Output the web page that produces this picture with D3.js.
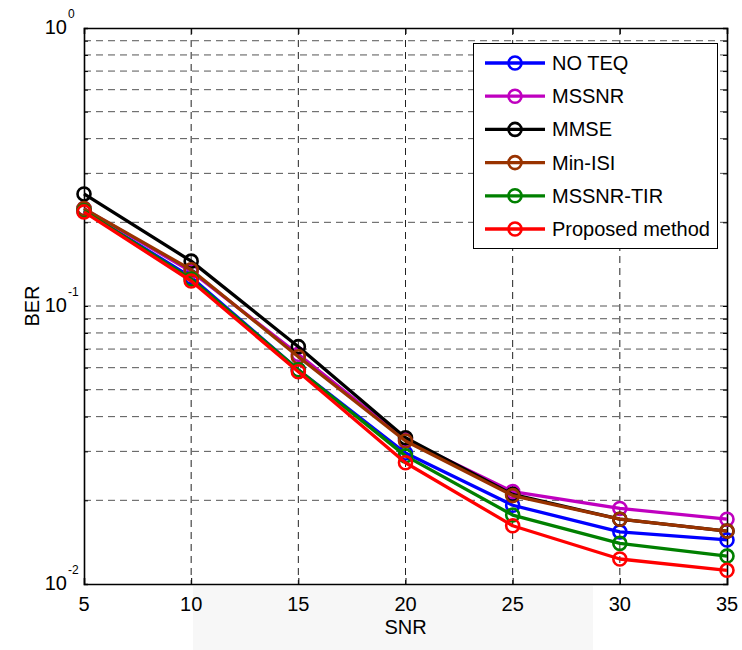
<!DOCTYPE html>
<html>
<head>
<meta charset="utf-8">
<script src="https://cdn.jsdelivr.net/npm/d3@7"></script>
<style>
  html, body { margin: 0; padding: 0; background: #fff; }
  svg text { font-family: "Liberation Sans", Arial, Helvetica, sans-serif; fill: #000; }
</style>
</head>
<body>
<svg id="chart" width="742" height="650"></svg>
<script>
// SNR points (dB)
const snr = [5, 10, 15, 20, 25, 30, 35];

// Bit error rate of each equalizer design
const seriesNames = ["NO TEQ", "MSSNR", "MMSE", "Min-ISI", "MSSNR-TIR", "Proposed method"];
const berNoTeq    = [0.220, 0.127, 0.0590, 0.0296, 0.0192, 0.0154, 0.0144];
const berMssnr    = [0.224, 0.133, 0.0670, 0.0330, 0.0215, 0.0187, 0.0171];
const berMmse     = [0.253, 0.145, 0.0714, 0.0336, 0.0210, 0.0171, 0.0155];
const berMinIsi   = [0.224, 0.135, 0.0657, 0.0327, 0.0208, 0.0171, 0.0155];
const berMssnrTir = [0.220, 0.125, 0.0590, 0.0289, 0.0177, 0.0140, 0.0126];
const berProposed = [0.218, 0.123, 0.0580, 0.0273, 0.0162, 0.0123, 0.0112];
const seriesColors = ["#0000ff", "#bf00bf", "#000000", "#993300", "#008000", "#ff0000"];

// Axis tick values
const xTicks = [5, 10, 15, 20, 25, 30, 35];
const yDecades = [0.01, 0.1, 1];
const yDecadeExponents = ["-2", "-1", "0"];

const allSeries = [berNoTeq, berMssnr, berMmse, berMinIsi, berMssnrTir, berProposed];

const svg = d3.select("#chart");
const plotLeft = 84, plotRight = 727, plotTop = 28, plotBottom = 584;

const x = d3.scaleLinear().domain([5, 35]).range([plotLeft, plotRight]);
const y = d3.scaleLog().domain([0.01, 1]).range([plotBottom, plotTop]);

// faint band behind the x-axis labels
svg.append("rect").attr("x", 193).attr("y", 586).attr("width", 400).attr("height", 64)
  .attr("fill", "#f7f7f7");

// grid: horizontal at every log-minor value, vertical at inner x ticks
const gridY = [];
for (let d = 0.01; d < 1; d *= 10) {
  for (let m = 1; m <= 9; m++) {
    const v = +(d * m).toPrecision(3);
    if (v > 0.01 && v < 1) gridY.push(v);
  }
}
const grid = svg.append("g");
grid.selectAll("line.h").data(gridY).join("line")
  .attr("class", "h")
  .attr("x1", plotLeft).attr("x2", plotRight)
  .attr("y1", d => y(d)).attr("y2", d => y(d))
  .attr("stroke", "#555").attr("stroke-width", 1)
  .attr("stroke-dasharray", "7,5");
grid.selectAll("line.v").data(xTicks.slice(1, -1)).join("line")
  .attr("class", "v")
  .attr("x1", d => x(d)).attr("x2", d => x(d))
  .attr("y1", plotTop).attr("y2", plotBottom)
  .attr("stroke", "#222").attr("stroke-width", 1)
  .attr("stroke-dasharray", "7,5");

// axes with inward ticks
const yTickVals = gridY.concat(yDecades);
const xAxisBottom = d3.axisBottom(x).tickValues(xTicks).tickSize(-6).tickFormat("");
const xAxisTop = d3.axisTop(x).tickValues(xTicks).tickSize(-6).tickFormat("");
const yAxisLeft = d3.axisLeft(y).tickValues(yTickVals).tickSize(-4).tickFormat("");
const yAxisRight = d3.axisRight(y).tickValues(yTickVals).tickSize(-4).tickFormat("");

function styleAxis(g) {
  g.select(".domain").attr("stroke", "#000").attr("stroke-width", 1.6);
  g.selectAll(".tick line").attr("stroke", "#000");
}
svg.append("g").attr("transform", `translate(0,${plotBottom})`).call(xAxisBottom).call(styleAxis);
svg.append("g").attr("transform", `translate(0,${plotTop})`).call(xAxisTop).call(styleAxis);
svg.append("g").attr("transform", `translate(${plotLeft},0)`).call(yAxisLeft).call(styleAxis);
svg.append("g").attr("transform", `translate(${plotRight},0)`).call(yAxisRight).call(styleAxis);

// x tick labels
svg.append("g").selectAll("text").data(xTicks).join("text")
  .attr("x", d => x(d)).attr("y", 611)
  .attr("text-anchor", "middle").attr("font-size", 20)
  .text(d => d);

// y decade labels 10^n
const yLab = svg.append("g").selectAll("g").data(yDecades).join("g")
  .attr("transform", d => `translate(67,${y(d)})`);
yLab.append("text").attr("x", 0).attr("y", 6)
  .attr("text-anchor", "end").attr("font-size", 20).text("10");
yLab.append("text").attr("x", 1).attr("y", -10)
  .attr("text-anchor", "start").attr("font-size", 12)
  .text((d, i) => yDecadeExponents[i]);

// axis titles
svg.append("text").attr("x", (plotLeft + plotRight) / 2).attr("y", 634)
  .attr("text-anchor", "middle").attr("font-size", 20).text("SNR");
svg.append("text").attr("transform", `translate(39,${(plotTop + plotBottom) / 2}) rotate(-90)`)
  .attr("text-anchor", "middle").attr("font-size", 20).text("BER");

// data lines with open circle markers
const line = d3.line().x((d, i) => x(snr[i])).y(d => y(d));
allSeries.forEach((vals, k) => {
  const g = svg.append("g");
  g.append("path").datum(vals)
    .attr("d", line).attr("fill", "none")
    .attr("stroke", seriesColors[k]).attr("stroke-width", 3.3)
    .attr("stroke-linejoin", "round");
  g.selectAll("circle").data(vals).join("circle")
    .attr("cx", (d, i) => x(snr[i])).attr("cy", d => y(d))
    .attr("r", 6.5).attr("fill", "none")
    .attr("stroke", seriesColors[k]).attr("stroke-width", 2.6);
});

// legend
const lg = svg.append("g");
lg.append("rect").attr("x", 473.5).attr("y", 43.5).attr("width", 244).attr("height", 205)
  .attr("fill", "#fff").attr("stroke", "#000").attr("stroke-width", 1);
const rowY = d3.scaleLinear().domain([0, 5]).range([63, 229]);
const rows = lg.selectAll("g").data(seriesNames).join("g")
  .attr("transform", (d, i) => `translate(0,${rowY(i)})`);
rows.append("line").attr("x1", 485).attr("x2", 545).attr("y1", 0).attr("y2", 0)
  .attr("stroke", (d, i) => seriesColors[i]).attr("stroke-width", 3.3);
rows.append("circle").attr("cx", 515).attr("cy", 0).attr("r", 6.5)
  .attr("fill", "none").attr("stroke", (d, i) => seriesColors[i]).attr("stroke-width", 2.6);
rows.append("text").attr("x", 552).attr("y", 7).attr("font-size", 20).text(d => d);
</script>
</body>
</html>
